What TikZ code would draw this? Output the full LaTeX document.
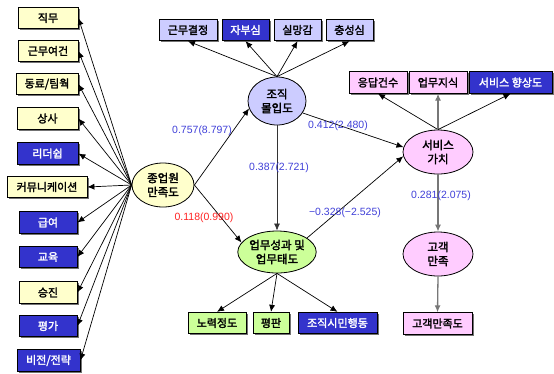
\documentclass[tikz,border=0pt]{standalone}
\usepackage{fontspec}
\setmainfont{Noto Sans CJK KR}[BoldFont={Noto Sans CJK KR}, BoldFeatures={FakeBold=2.2}]
\newfontfamily\lab{Liberation Sans}
\usetikzlibrary{arrows.meta,shadows,shapes.geometric}
\definecolor{ylw}{HTML}{FFFFCC}
\definecolor{lav}{HTML}{CCCCFF}
\definecolor{pnk}{HTML}{FFCCFF}
\definecolor{grn}{HTML}{CCFF99}
\definecolor{blu}{HTML}{3333CC}
\definecolor{lbl}{HTML}{4040D8}
\definecolor{rd}{HTML}{FF2222}
\definecolor{gln}{HTML}{777777}
\begin{document}
\begin{tikzpicture}[x=1pt,y=-1pt,
  box/.style={draw=black, line width=0.8pt, minimum height=21.5pt, inner sep=0pt,
    font=\fontsize{11}{12}\selectfont\bfseries,
    drop shadow={shadow xshift=1.5pt,shadow yshift=-1.5pt,fill=black!55,opacity=1}},
  ybox/.style={box, fill=ylw},
  lbox/.style={box, fill=lav},
  pbox/.style={box, fill=pnk},
  gbox/.style={box, fill=grn},
  bbox/.style={box, fill=blu, text=white},
  ell/.style={draw=black, line width=0.8pt, shape=ellipse, inner sep=0pt, align=center,
    font=\fontsize{11.5}{14}\selectfont\bfseries},
  arr/.style={-{Latex[length=7pt,width=6pt]}, line width=0.7pt, draw=black},
  garr/.style={-{Latex[length=7pt,width=6pt]}, line width=1.3pt, draw=gln},
  coef/.style={font=\lab\fontsize{10.5}{12}\selectfont, text=lbl, inner sep=0pt},
]
\useasboundingbox (0,0) rectangle (554,373);

% left boxes
\node[ybox, minimum width=60pt] (b1) at (48,18) {직무};
\node[ybox, minimum width=60pt] (b2) at (48,51) {근무여건};
\node[ybox, minimum width=62pt] (b3) at (47,84) {동료/팀웍};
\node[ybox, minimum width=61pt] (b4) at (47.5,118.5) {상사};
\node[bbox, minimum width=61pt] (b5) at (47.5,153.5) {리더쉽};
\node[ybox, minimum width=80pt] (b6) at (47,187) {커뮤니케이션};
\node[bbox, minimum width=58pt] (b7) at (48,222.5) {급여};
\node[bbox, minimum width=58pt] (b8) at (48,257) {교육};
\node[ybox, minimum width=58pt] (b9) at (48,292.5) {승진};
\node[bbox, minimum width=58pt] (b10) at (48,326) {평가};
\node[bbox, minimum width=63pt] (b11) at (48.5,360.5) {비전/전략};

% top boxes
\node[lbox, minimum width=58pt] (t1) at (188,30) {근무결정};
\node[bbox, minimum width=47pt] (t2) at (245.5,30) {자부심};
\node[lbox, minimum width=47pt] (t3) at (297.5,30) {실망감};
\node[lbox, minimum width=47pt] (t4) at (349.5,30) {충성심};

% right top boxes
\node[pbox, minimum width=58pt] (r1) at (378,82.5) {응답건수};
\node[pbox, minimum width=58pt] (r2) at (438,82.5) {업무지식};
\node[bbox, minimum width=83pt] (r3) at (510.5,82.5) {서비스 향상도};

% bottom boxes
\node[gbox, minimum width=58pt] (u1) at (217,323) {노력정도};
\node[gbox, minimum width=36pt] (u2) at (271,323) {평판};
\node[bbox, minimum width=79pt] (u3) at (337.5,323) {조직시민행동};
\node[pbox, minimum width=69pt] (c1) at (437.5,323.5) {고객만족도};

% ellipses
\node[ell, fill=ylw, minimum width=62pt, minimum height=44pt] (jy) at (163,185) {종업원\\만족도};
\node[ell, fill=lav, minimum width=58pt, minimum height=48pt] (jj) at (277,101) {조직\\몰입도};
\node[ell, fill=grn, minimum width=70pt, minimum height=42pt] (ep) at (277,252) {업무성과 및\\업무태도};
\node[ell, fill=pnk, minimum width=70pt, minimum height=44pt] (sv) at (438,152) {서비스\\가치};
\node[ell, fill=pnk, minimum width=70pt, minimum height=44pt] (gc) at (438,254) {고객\\만족};

% left fan
\foreach \b in {b1,b2,b3,b4,b5,b6,b7,b8,b9,b10,b11}
  \draw[arr] (jy.west) -- (\b.east);

% top fan
\foreach \b in {t1,t2,t3,t4}
  \draw[arr] (jj.north) -- (\b.south);

% right top fan
\draw[arr] (sv.north) -- (r1.south);
\draw[garr] (sv.north) -- (r2.south);
\draw[arr] (sv.north) -- (r3.south);

% bottom fan
\draw[arr] (ep.south) -- (u1.north);
\draw[arr] (ep.south) -- (u2.north);
\draw[arr] (ep.south) -- (u3.north);

% structural paths
\draw[arr] (jy.east) -- (jj.195);
\draw[arr] (jy.east) -- (ep.165);
\draw[arr, draw=black!80] (jj.south) -- (ep.north);
\draw[arr] (jj.-25) -- (sv.172);
\draw[arr] (ep.25) -- (sv.187);
\draw[garr] (sv.south) -- (gc.north);
\draw[garr] (gc.south) -- (c1.north);

% coefficients
\node[coef] (k1) at (202,131) {0.757(8.797)};
\node[coef, text=rd] (k2) at (204,218) {0.118(0.990)};
\node[coef] (k3) at (279,168) {0.387(2.721)};
\node[coef] (k4) at (338,126) {0.412(2.480)};
\node[coef] (k5) at (345,213) {−0.328(−2.525)};
\node[coef] (k6) at (441,196) {0.281(2.075)};
\end{tikzpicture}
\end{document}
